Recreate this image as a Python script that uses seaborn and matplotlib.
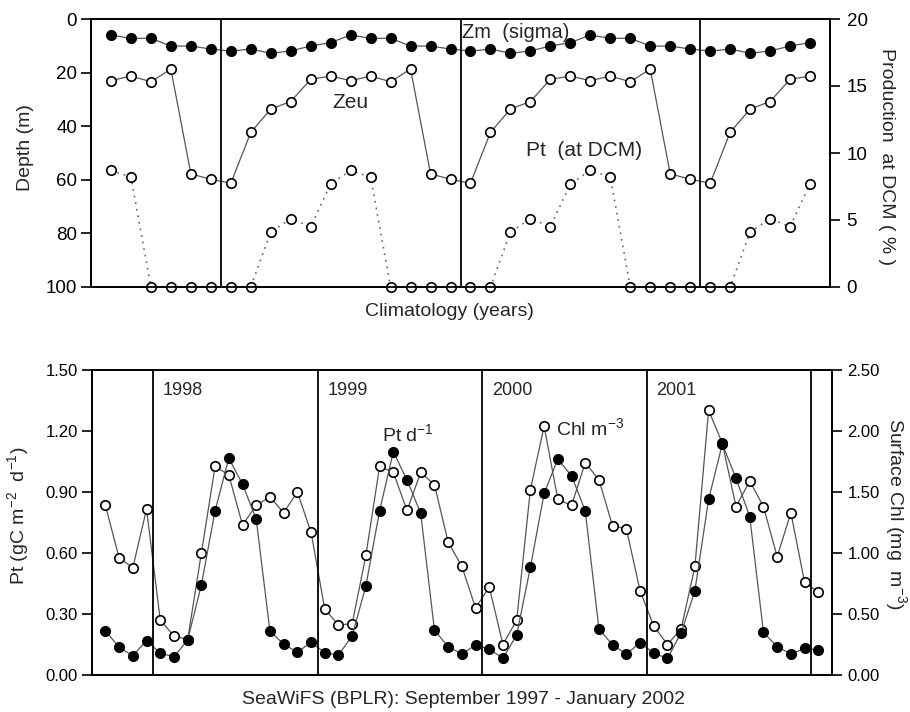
import numpy as np
import pandas as pd
import matplotlib
matplotlib.use('Agg')
import matplotlib.pyplot as plt
import seaborn as sns

# Climatology panel (Jul .. Jun over three cycles)
clim_months = ['Jul', 'Aug', 'Sep', 'Oct', 'Nov', 'Dec',
               'Jan', 'Feb', 'Mar', 'Apr', 'May', 'Jun', 'Jul', 'Aug', 'Sep', 'Oct', 'Nov', 'Dec',
               'Jan', 'Feb', 'Mar', 'Apr', 'May', 'Jun', 'Jul', 'Aug', 'Sep', 'Oct', 'Nov', 'Dec',
               'Jan', 'Feb', 'Mar', 'Apr', 'May', 'Jun']
zm_sigma = [6.0, 7.2, 7.2, 10.1, 10.1, 11.2,
            12.0, 11.2, 12.8, 11.9, 10.1, 8.8, 6.0, 7.2, 7.2, 10.1, 10.1, 11.2,
            12.0, 11.2, 12.8, 11.9, 10.1, 8.8, 6.0, 7.2, 7.2, 10.1, 10.1, 11.2,
            12.0, 11.2, 12.8, 11.9, 10.1, 8.8]
zeu = [23.0, 21.3, 23.4, 18.7, 57.8, 59.8,
       61.3, 42.3, 33.6, 30.8, 22.5, 21.3, 23.0, 21.3, 23.4, 18.7, 57.8, 59.8,
       61.3, 42.3, 33.6, 30.8, 22.5, 21.3, 23.0, 21.3, 23.4, 18.7, 57.8, 59.8,
       61.3, 42.3, 33.6, 30.8, 22.5, 21.3]
pt_dcm = [8.7, 8.2, 0, 0, 0, 0,
          0, 0, 4.1, 5.1, 4.5, 7.7, 8.7, 8.2, 0, 0, 0, 0,
          0, 0, 4.1, 5.1, 4.5, 7.7, 8.7, 8.2, 0, 0, 0, 0,
          0, 0, 4.1, 5.1, 4.5, 7.7]

# SeaWiFS panel: September 1997 - January 2002
dates = pd.date_range('1997-09-01', '2002-01-01', freq='MS')
pt_daily = [0.218, 0.136, 0.095, 0.169,
            0.107, 0.090, 0.172, 0.443, 0.808, 1.066, 0.939, 0.767, 0.216, 0.152, 0.112, 0.161,
            0.110, 0.098, 0.193, 0.438, 0.808, 1.098, 0.959, 0.795, 0.221, 0.139, 0.103, 0.148,
            0.128, 0.082, 0.197, 0.530, 0.893, 1.062, 0.980, 0.808, 0.226, 0.148, 0.103, 0.159,
            0.107, 0.082, 0.208, 0.415, 0.864, 1.136, 0.967, 0.779, 0.210, 0.139, 0.103, 0.131,
            0.123]
chl = [1.39, 0.96, 0.88, 1.36,
       0.45, 0.32, 0.29, 1.00, 1.71, 1.64, 1.23, 1.39, 1.46, 1.33, 1.50, 1.17,
       0.54, 0.41, 0.42, 0.98, 1.71, 1.66, 1.35, 1.66, 1.56, 1.09, 0.89, 0.55,
       0.72, 0.25, 0.45, 1.52, 2.04, 1.44, 1.39, 1.74, 1.60, 1.22, 1.20, 0.69,
       0.40, 0.25, 0.38, 0.89, 2.17, 1.90, 1.38, 1.59, 1.38, 0.97, 1.33, 0.76,
       0.68]
year_labels = ['1998', '1999', '2000', '2001']

sns.set_style('white')
plt.rcParams['font.family'] = ['Liberation Sans', 'DejaVu Sans']
plt.rcParams['mathtext.default'] = 'regular'

W, H = 910, 712
fig = plt.figure(figsize=(W / 100, H / 100), dpi=100)


def px(x, y):
    return x / W, 1 - y / H


line_kw = dict(color='#555555', lw=0.9, marker='o', markersize=6.8,
               markeredgecolor='black', markeredgewidth=1.2, clip_on=False)

# ---- top panel
df_top = pd.DataFrame({'month': clim_months, 'zm': zm_sigma, 'zeu': zeu, 'pt': pt_dcm})
df_top['pos'] = np.arange(len(df_top))

ax1 = fig.add_axes([91 / W, 1 - 287 / H, 739 / W, 268 / H])
ax1r = ax1.twinx()
sns.lineplot(data=df_top, x='pos', y='zm', ax=ax1, markerfacecolor='black', **line_kw)
sns.lineplot(data=df_top, x='pos', y='zeu', ax=ax1, markerfacecolor='white', **line_kw)
sns.lineplot(data=df_top, x='pos', y='pt', ax=ax1r, markerfacecolor='white',
             linestyle=(0, (1, 3)), **{**line_kw, 'color': '#666666', 'lw': 1.2})
ax1.set_xlim(-1, len(df_top))
ax1.set_ylim(100, 0)
ax1r.set_ylim(0, 20)
ax1.set_yticks([0, 20, 40, 60, 80, 100])
ax1r.set_yticks([0, 5, 10, 15, 20])
for b in [i - 0.5 for i, m in enumerate(clim_months) if m == 'Jan']:
    ax1.axvline(b, color='black', lw=1.3)

ax1.text(17.6, 5.2, 'Zm  (sigma)', fontsize=14.5, va='center', ha='left')
ax1.text(11.1, 31.3, 'Zeu', fontsize=15, va='center', ha='left')
ax1.text(20.8, 48.9, 'Pt  (at DCM)', fontsize=15, va='center', ha='left')

# ---- bottom panel
df_bot = pd.DataFrame({'date': dates, 'pt': pt_daily, 'chl': chl})
df_bot['pos'] = np.arange(len(df_bot))

ax2 = fig.add_axes([91.7 / W, 1 - 675 / H, 740.3 / W, 305 / H])
ax2r = ax2.twinx()
sns.lineplot(data=df_bot, x='pos', y='chl', ax=ax2r, markerfacecolor='white', **line_kw)
sns.lineplot(data=df_bot, x='pos', y='pt', ax=ax2, markerfacecolor='black', **line_kw)
ax2.set_zorder(ax2r.get_zorder() + 1)
ax2.patch.set_visible(False)
ax2.set_xlim(-1, len(df_bot))
ax2.set_ylim(0, 1.5)
ax2r.set_ylim(0, 2.5)
ax2.set_yticks(np.arange(0, 1.51, 0.3))
ax2r.set_yticks(np.arange(0, 2.51, 0.5))
ax2.set_yticklabels([f'{v:.2f}' for v in np.arange(0, 1.51, 0.3)])
ax2r.set_yticklabels([f'{v:.2f}' for v in np.arange(0, 2.51, 0.5)])
jan_pos = df_bot.loc[df_bot['date'].dt.month == 1, 'pos'].tolist()
for b in jan_pos:
    ax2.axvline(b - 0.5, color='black', lw=1.3)
for b, lab in zip(jan_pos, year_labels):
    ax2.text(b - 0.5 + 0.7, 1.40, lab, fontsize=13, va='center', ha='left')

ax2.text(20.2, 1.185, r'Pt d$^{-1}$', fontsize=14, va='center', ha='left')
ax2.text(32.9, 1.215, r'Chl m$^{-3}$', fontsize=14, va='center', ha='left')

for ax in [ax1, ax1r, ax2, ax2r]:
    ax.set_xlabel('')
    ax.set_ylabel('')
    ax.set_xticks([])
    for s in ax.spines.values():
        s.set_color('black')
        s.set_linewidth(1.3)
for ax in [ax1, ax1r]:
    ax.tick_params(axis='y', direction='out', length=7, width=1.2, pad=3,
                   labelsize=13.5, colors='black')
for ax in [ax2, ax2r]:
    ax.tick_params(axis='y', direction='out', length=7, width=1.2, pad=3,
                   labelsize=12, colors='black')
ax1r.tick_params(axis='y', pad=5)
ax2r.tick_params(axis='y', pad=4)

# axis titles
fig.text(*px(25, 148), 'Depth (m)', rotation=90, ha='center', va='center', fontsize=14)
fig.text(*px(887, 157), 'Production  at DCM ( % )', rotation=270, ha='center', va='center', fontsize=14)
fig.text(*px(449, 312), 'Climatology (years)', ha='center', va='center', fontsize=14)
fig.text(*px(18, 516), r'Pt (gC m$^{-2}$  d$^{-1}$)', rotation=90, ha='center', va='center', fontsize=14)
fig.text(*px(896, 514), r'Surface Chl (mg  m$^{-3}$)', rotation=270, ha='center', va='center', fontsize=14)
fig.text(*px(463, 700), 'SeaWiFS (BPLR): September 1997 - January 2002', ha='center', va='center', fontsize=14)

fig.savefig('out.png', dpi=100, facecolor='white')
